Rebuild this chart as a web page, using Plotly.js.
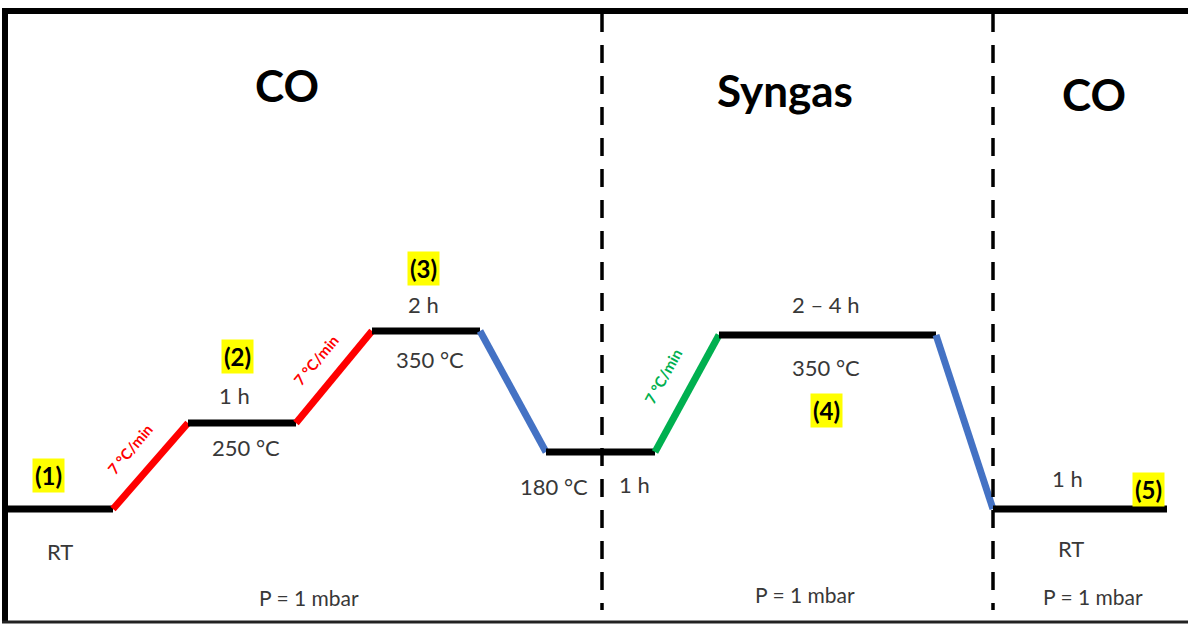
<!DOCTYPE html>
<html>
<head>
<meta charset="utf-8">
<script src="https://cdn.plot.ly/plotly-3.0.1.min.js"></script>
<style>html,body{margin:0;padding:0;background:#fff;}#chart{width:1188px;height:625px;}</style>
</head>
<body>
<div id="chart"></div>
<script>
// Temperature-program profile (diagram coordinates: x = time axis, y = downward position)
const profileX = [5, 113, 188, 296, 372, 480, 546, 655, 719, 936, 993, 1167];
const profileY = [509, 509, 423, 423, 331, 331, 452, 452, 335, 335, 509, 509];
const segmentColors = ['#000000', '#FF0000', '#000000', '#FF0000', '#000000', '#4472C4', '#000000', '#00B050', '#000000', '#4472C4', '#000000'];

// Phase separators
const separatorX = [602, 993];
const separatorY = [14, 610];

// Phase titles
const phaseTitles = ['CO', 'Syngas', 'CO'];
const phaseTitleX = [287, 785, 1094];
const phaseTitleY = [85, 90, 94];

// Step numbers (highlighted)
const stepLabels = ['(1)', '(2)', '(3)', '(4)', '(5)'];
const stepX = [48, 237, 423, 826, 1148];
const stepY = [475, 356, 268, 410, 489];

// Plain annotations
const noteTexts = ['1 h', '250 °C', '2 h', '350 °C', '180 °C', '1 h', '2 – 4 h', '350 °C', '1 h', 'RT', 'RT'];
const noteX = [234, 246, 423, 430, 554, 634, 825, 826, 1067, 60, 1071];
const noteY = [395, 447, 304, 359, 486, 484, 304, 367, 478, 551, 548];

const pressureTexts = ['P = 1 mbar', 'P = 1 mbar', 'P = 1 mbar'];
const pressureX = [309, 805, 1093];
const pressureY = [597, 594, 596];

// Ramp rate labels
const rampTexts = ['7 °C/min', '7 °C/min', '7 °C/min'];
const rampX = [130, 316, 663];
const rampY = [449, 360, 376];
const rampAngles = [-50, -50, -61];
const rampColors = ['#FF0000', '#FF0000', '#00B050'];

const FONT = 'Lato, "Open Sans", sans-serif';
const traces = [];
for (let i = 0; i < segmentColors.length; i++) {
  traces.push({
    x: [profileX[i], profileX[i + 1]],
    y: [profileY[i], profileY[i + 1]],
    mode: 'lines', type: 'scatter', hoverinfo: 'skip', showlegend: false,
    line: {color: segmentColors[i], width: 7}
  });
}
separatorX.forEach(sx => {
  traces.push({
    x: [sx, sx], y: separatorY,
    mode: 'lines', type: 'scatter', hoverinfo: 'skip', showlegend: false,
    line: {color: '#000000', width: 3.5, dash: '18px,13px'}
  });
});

const annotations = [];
phaseTitles.forEach((t, i) => annotations.push({
  x: phaseTitleX[i], y: phaseTitleY[i], xref: 'x', yref: 'y', text: '<b>' + t + '</b>',
  showarrow: false, font: {family: FONT, size: 44, color: '#000000'}
}));
stepLabels.forEach((t, i) => annotations.push({
  x: stepX[i], y: stepY[i], xref: 'x', yref: 'y', text: '<b>' + t + '</b>',
  showarrow: false, bgcolor: '#FFFF00', borderpad: 2,
  font: {family: FONT, size: 24, color: '#000000'}
}));
noteTexts.forEach((t, i) => annotations.push({
  x: noteX[i], y: noteY[i], xref: 'x', yref: 'y', text: t,
  showarrow: false, font: {family: FONT, size: 22, color: '#383838'}
}));
pressureTexts.forEach((t, i) => annotations.push({
  x: pressureX[i], y: pressureY[i], xref: 'x', yref: 'y', text: t,
  showarrow: false, font: {family: FONT, size: 21, color: '#383838'}
}));
rampTexts.forEach((t, i) => annotations.push({
  x: rampX[i], y: rampY[i], xref: 'x', yref: 'y', text: '<b>' + t + '</b>',
  showarrow: false, textangle: rampAngles[i],
  font: {family: FONT, size: 15, color: rampColors[i]}
}));

const layout = {
  width: 1188, height: 625,
  margin: {l: 0, r: 0, t: 0, b: 0},
  paper_bgcolor: '#ffffff', plot_bgcolor: '#ffffff',
  xaxis: {range: [0, 1188], visible: false, fixedrange: true},
  yaxis: {range: [625, 0], visible: false, fixedrange: true},
  showlegend: false,
  annotations: annotations,
  shapes: [
    {type: 'line', xref: 'x', yref: 'y', x0: 2, x1: 1188, y0: 11, y1: 11, line: {color: '#000000', width: 6}},
    {type: 'line', xref: 'x', yref: 'y', x0: 5, x1: 5, y0: 8, y1: 623, line: {color: '#000000', width: 6}},
    {type: 'line', xref: 'x', yref: 'y', x0: 2, x1: 1188, y0: 622, y1: 622, line: {color: '#222222', width: 3}}
  ]
};

Plotly.newPlot('chart', traces, layout, {staticPlot: true, displayModeBar: false});
</script>
</body>
</html>
